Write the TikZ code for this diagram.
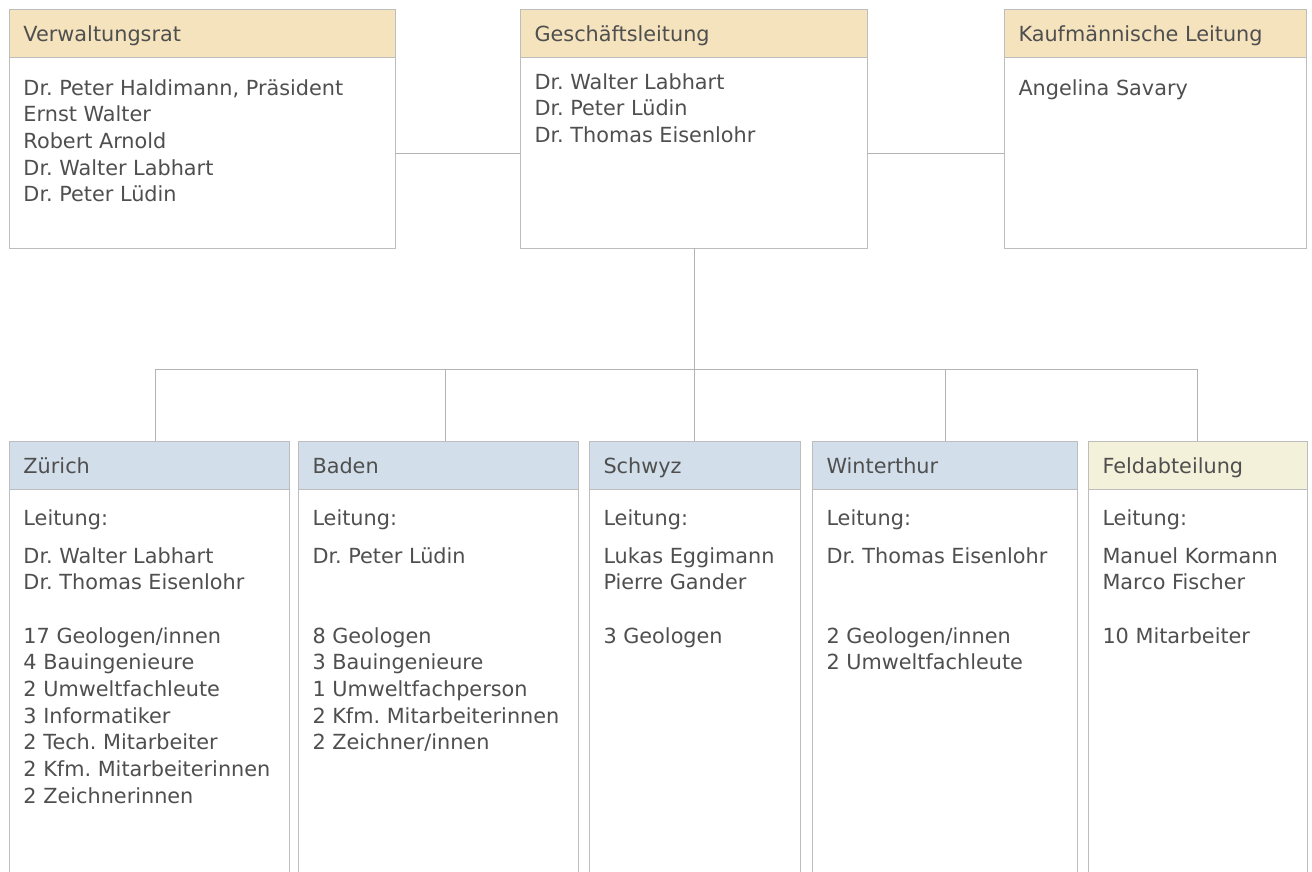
\documentclass[tikz,border=0pt]{standalone}
\usepackage{fontspec}
\setmainfont{DejaVu Sans}
\frenchspacing
\definecolor{hdrtan}{HTML}{F5E3BD}
\definecolor{hdrblue}{HTML}{D2DFEA}
\definecolor{hdrfeld}{HTML}{F3F1D9}
\definecolor{frame}{HTML}{BDBDBD}
\definecolor{conncol}{HTML}{B3B3B3}
\definecolor{txt}{HTML}{4F4F4F}
\tikzset{
  boxframe/.style={draw=frame, fill=white, line width=0.75pt, rectangle, inner sep=0pt, outer sep=0pt, anchor=north west},
  hdrbox/.style={draw=frame, line width=0.75pt, rectangle, inner sep=0pt, outer sep=0pt, anchor=north west, minimum height=36pt},
  tlabel/.style={text=txt, inner sep=0pt, outer sep=0pt, anchor=base west, align=left, font=\fontsize{15.6}{20}\selectfont\frenchspacing},
  tblock/.style={tlabel, anchor=north west, yshift=14pt},
  conn/.style={draw=conncol, line width=0.75pt}
}
% name, x1, y1, x2, y2, header colour, title
\newcommand\orgbox[7]{%
  \node[boxframe, minimum width={(#4-#2)*0.75pt}, minimum height={(#5-#3)*0.75pt}] (#1) at (#2,#3) {};
  \node[hdrbox, fill=#6, minimum width={(#4-#2)*0.75pt}] (#1h) at (#2,#3) {};
  \node[tlabel] (#1t) at (#2+14.5,#3+32) {#7};
}
\begin{document}
\begin{tikzpicture}[x=0.75pt,y=-0.75pt]
\useasboundingbox[fill=white] (0,0) rectangle (1312,871);

% top row
\orgbox{vr}{9}{9}{395}{248}{hdrtan}{Verwaltungsrat}
\orgbox{gl}{520}{9}{867}{248}{hdrtan}{Geschäftsleitung}
\orgbox{kl}{1004}{9}{1306}{248}{hdrtan}{Kaufmännische Leitung}

\node[tblock] (vrb) at (23.5,95) {\strut Dr. Peter Haldimann, Präsident\\Ernst Walter\\Robert Arnold\\Dr. Walter Labhart\\Dr. Peter Lüdin};
\node[tblock] (glb) at (534.5,89) {\strut Dr. Walter Labhart\\Dr. Peter Lüdin\\Dr. Thomas Eisenlohr};
\node[tlabel] (klb) at (1018.5,95) {Angelina Savary};

% bottom row
\orgbox{zu}{9}{441}{289}{885}{hdrblue}{Zürich}
\orgbox{ba}{298}{441}{578}{885}{hdrblue}{Baden}
\orgbox{sc}{589}{441}{800}{885}{hdrblue}{Schwyz}
\orgbox{wi}{812}{441}{1077}{885}{hdrblue}{Winterthur}
\orgbox{fe}{1088}{441}{1307}{885}{hdrfeld}{Feldabteilung}

\node[tlabel] (zul) at (23.5,525) {Leitung:};
\node[tblock] (zun) at (23.5,563) {\strut Dr. Walter Labhart\\Dr. Thomas Eisenlohr};
\node[tblock] (zus) at (23.5,643) {\strut 17 Geologen/innen\\4 Bauingenieure\\2 Umweltfachleute\\3 Informatiker\\2 Tech. Mitarbeiter\\2 Kfm. Mitarbeiterinnen\\2 Zeichnerinnen};

\node[tlabel] (bal) at (312.5,525) {Leitung:};
\node[tlabel] (ban) at (312.5,563) {Dr. Peter Lüdin};
\node[tblock] (bas) at (312.5,643) {\strut 8 Geologen\\3 Bauingenieure\\1 Umweltfachperson\\2 Kfm. Mitarbeiterinnen\\2 Zeichner/innen};

\node[tlabel] (scl) at (603.5,525) {Leitung:};
\node[tblock] (scn) at (603.5,563) {\strut Lukas Eggimann\\Pierre Gander};
\node[tlabel] (scs) at (603.5,643) {3 Geologen};

\node[tlabel] (wil) at (826.5,525) {Leitung:};
\node[tlabel] (win) at (826.5,563) {Dr. Thomas Eisenlohr};
\node[tblock] (wis) at (826.5,643) {\strut 2 Geologen/innen\\2 Umweltfachleute};

\node[tlabel] (fel) at (1102.5,525) {Leitung:};
\node[tblock] (fen) at (1102.5,563) {\strut Manuel Kormann\\Marco Fischer};
\node[tlabel] (fes) at (1102.5,643) {10 Mitarbeiter};

% connectors
\draw[conn] ([yshift=-108pt]vr.north east) -- ([yshift=-108pt]gl.north west);
\draw[conn] ([yshift=-108pt]gl.north east) -- ([yshift=-108pt]kl.north west);
\coordinate (bus) at (694,369);
\draw[conn] (gl.south -| bus) -- (bus);
\draw[conn] ([xshift=4.5pt]zu.north |- bus) -- (fe.north |- bus);
\draw[conn] ([xshift=4.5pt]zu.north) -- ([xshift=4.5pt]zu.north |- bus);
\draw[conn] ([xshift=5.25pt]ba.north) -- ([xshift=5.25pt]ba.north |- bus);
\draw[conn] (sc.north) -- (sc.north |- bus);
\draw[conn] ([xshift=1pt]wi.north) -- ([xshift=1pt]wi.north |- bus);
\draw[conn] (fe.north) -- (fe.north |- bus);
\end{tikzpicture}
\end{document}
